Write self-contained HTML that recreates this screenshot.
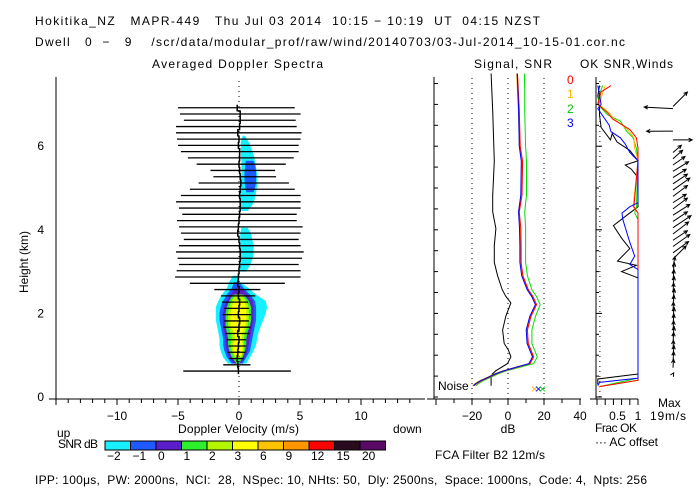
<!DOCTYPE html>
<html><head><meta charset="utf-8">
<style>
html,body{margin:0;padding:0;background:#fff;}
svg{display:block;font-family:"Liberation Sans",sans-serif;}
text{fill:#000;font-size:12px;white-space:pre;}
</style></head>
<body>
<svg id="chart" width="700" height="500" viewBox="0 0 700 500" xml:space="preserve">
<text x="35" y="25" font-size="13" textLength="505" lengthAdjust="spacing">Hokitika_NZ   MAPR-449   Thu Jul 03 2014  10:15 − 10:19  UT  04:15 NZST</text>
<text x="35" y="46" textLength="590" lengthAdjust="spacing">Dwell   0  −   9    /scr/data/modular_prof/raw/wind/20140703/03-Jul-2014_10-15-01.cor.nc</text>
<text x="152" y="68" textLength="171" lengthAdjust="spacing">Averaged Doppler Spectra</text>
<text x="474" y="68" textLength="78" lengthAdjust="spacing">Signal, SNR</text>
<text x="580" y="68" textLength="93" lengthAdjust="spacing">OK SNR,Winds</text>
<g id="spec"></g>
<g id="sig"></g>
<g id="wind"></g>
<g id="leg"></g>
<text x="28" y="262" transform="rotate(-90 28 262)" text-anchor="middle" font-size="11">Height (km)</text>
<text x="178" y="433" textLength="121" lengthAdjust="spacing">Doppler Velocity (m/s)</text>
<text x="57" y="437">up</text>
<text x="393" y="433">down</text>
<text x="508" y="433" text-anchor="middle">dB</text>
<text x="595" y="432" textLength="42" lengthAdjust="spacing">Frac OK</text>
<text x="595" y="446" textLength="63" lengthAdjust="spacing">··· AC offset</text>
<text x="658" y="407">Max</text>
<text x="650" y="420" textLength="36" lengthAdjust="spacing">19m/s</text>
<text x="435" y="459" textLength="110" lengthAdjust="spacing">FCA Filter B2 12m/s</text>
<text x="438" y="390">Noise</text>
<text x="58" y="448" textLength="40" lengthAdjust="spacing">SNR dB</text>
<text x="35" y="484" textLength="612" lengthAdjust="spacing">IPP: 100μs,  PW: 2000ns,  NCI:  28,  NSpec: 10, NHts: 50,  Dly: 2500ns,  Space: 1000ns,  Code: 4,  Npts: 256</text>
</svg>
<script>
// ---------- data ----------
const gateH=[0.62,0.77,0.92,1.07,1.22,1.37,1.52,1.67,1.82,1.97,2.12,2.27,2.42,2.57,2.72,2.87,3.02,3.17,3.32,3.47,3.62,3.77,3.92,4.07,4.22,4.37,4.52,4.67,4.82,4.97,5.12,5.27,5.42,5.57,5.72,5.87,6.02,6.17,6.32,6.47,6.62,6.77,6.92];
const barLeft=[-4.57,-1.29,-0.81,-0.94,-0.86,-1.02,-1.13,-1.29,-1.21,-1.34,-1.21,-1.40,-1.48,-2.02,-4.03,-5.24,-5.11,-4.92,-5.03,-5.16,-4.92,-4.52,-4.76,-4.92,-5.08,-4.65,-4.92,-5.16,-4.76,-4.03,-3.31,-2.10,-2.34,-3.47,-4.19,-4.76,-5.00,-5.08,-5.16,-5.16,-4.52,-4.84,-5.00];
const barRight=[4.25,0.94,0.40,0.54,0.59,0.59,0.86,0.94,0.81,0.99,0.81,0.75,1.34,1.75,3.76,5.05,5.05,4.89,5.16,5.30,5.05,4.89,5.05,5.22,4.73,4.73,5.05,5.05,5.05,4.57,4.09,3.04,2.96,3.84,4.49,4.89,4.89,5.05,5.13,4.73,4.65,5.05,4.57];
const meanV=[-0.05,-0.1,-0.15,-0.1,-0.05,0.0,-0.1,0.0,0.05,-0.05,0.0,0.05,-0.05,0.0,-0.1,-0.05,0.0,0.05,0.1,0.1,0.05,0.0,-0.1,-0.05,0.0,0.05,0.1,0.1,0.05,0.1,0.15,0.1,0.05,0.0,0.05,0.05,-0.05,0.0,-0.1,0.05,0.1,0.1,-0.15];
const lowH=[0.8,0.95,1.1,1.25,1.4,1.55,1.7,1.85,2.0,2.15,2.3,2.45,2.6,2.75,2.9];
const cyanL=[-0.9,-1.3,-1.5,-1.6,-1.6,-1.7,-1.8,-1.9,-1.9,-1.9,-1.7,-1.4,-1.0,-0.8,-0.5];
const cyanR=[0.6,0.9,1.2,1.4,1.5,1.6,1.8,2.0,2.2,2.3,2.2,1.4,0.8,0.1,-0.1];
const blueL=[-0.6,-1.0,-1.2,-1.3,-1.3,-1.4,-1.5,-1.6,-1.6,-1.5,-1.3,-1.0,-0.6,-0.4,null];
const blueR=[0.3,0.6,0.9,1.0,1.1,1.2,1.3,1.4,1.4,1.4,1.3,0.9,0.4,0.0,null];
const purpL=[-0.4,-0.8,-1.0,-1.1,-1.1,-1.2,-1.3,-1.3,-1.3,-1.2,-1.0,-0.7,-0.3,null,null];
const purpR=[0.1,0.5,0.7,0.8,0.9,1.0,1.1,1.2,1.2,1.2,1.1,0.7,0.2,null,null];
const grnL=[-0.2,-0.6,-0.8,-0.9,-0.9,-1.0,-1.1,-1.1,-1.1,-1.0,-0.8,-0.5,null,null,null];
const grnR=[0.0,0.3,0.5,0.6,0.6,0.7,0.9,1.0,1.0,1.0,0.8,0.4,null,null,null];
const ygL=[null,-0.4,-0.6,-0.7,-0.6,-0.7,-0.9,-0.9,-0.9,-0.8,-0.6,-0.3,null,null,null];
const ygR=[null,0.2,0.4,0.4,0.4,0.5,0.7,0.8,0.8,0.8,0.6,0.2,null,null,null];
const yelL=[null,-0.3,-0.5,-0.5,-0.3,-0.4,-0.7,-0.7,-0.7,-0.6,-0.4,null,null,null,null];
const yelR=[null,0.1,0.3,0.3,0.2,0.3,0.5,0.6,0.6,0.6,0.4,null,null,null,null];
const upH=[4.45,4.6,4.75,4.9,5.05,5.2,5.35,5.5,5.65,5.8,5.95,6.1,6.25];
const upCyanL=[0.2,0.15,0.1,0.1,0.1,0.15,0.2,0.2,0.2,0.15,0.15,0.15,0.3];
const upCyanR=[0.7,1.1,1.3,1.4,1.5,1.5,1.5,1.4,1.3,1.2,1.0,0.8,0.5];
const upBlueL=[null,null,null,0.6,0.5,0.45,0.45,0.5,0.55,null,null,null,null];
const upBlueR=[null,null,null,1.2,1.35,1.4,1.4,1.35,1.2,null,null,null,null];
const midH=[3.0,3.15,3.3,3.45,3.6,3.75,3.9,4.05];
const midCyanL=[0.1,0.05,0.05,0.1,0.1,0.1,0.1,0.2];
const midCyanR=[0.6,0.9,1.1,1.2,1.2,1.1,1.0,0.7];
const sigH=[0.27,0.47,0.55,0.63,0.8,0.96,1.12,1.28,1.6,1.93,2.25,2.41,2.57,2.9,3.22,3.62,4.03,4.43,4.83,5.64,6.85,7.74];
const sigDb=[-9.4,-9.4,-8.7,-6.7,-0.3,1.6,0.3,-2.1,-3,-1.2,1.6,-1.2,-3.2,-5.8,-7.6,-7.6,-6.7,-8.5,-8.5,-7.6,-8.5,-9.4];
const snrH=[0.27,0.31,0.39,0.47,0.55,0.63,0.8,0.96,1.12,1.28,1.6,1.93,2.21,2.41,2.57,2.9,3.22,3.62,4.03,4.43,4.83,5.64,6.0,6.85,7.3,7.74];
const snr0=[-18.7,-17.7,-14.7,-10.7,-6.7,-1.7,12.3,14.3,12.8,11.3,10.8,12.8,15.9,13.8,11.3,8.3,7.3,7.3,7.1,6.3,7.8,8.1,6.8,6.3,5.8,5.3];
const snr1=[-19.7,-18.7,-15.7,-11.7,-7.7,-2.7,11.8,13.8,12.3,10.8,10.3,12.3,15.3,13.3,10.8,7.8,6.8,6.8,6.6,5.7,7.3,7.5,6.3,5.8,5.3,4.8];
const snr2=[-17.7,-16.7,-13.7,-9.7,-5.7,-0.7,14.3,16.3,14.8,13.3,13.3,15.3,17.9,15.8,13.3,10.8,9.8,9.8,9.8,9.3,10.3,10.3,9.8,9.3,9.3,9.1];
const snr3=[-19.2,-18.2,-15.2,-11.2,-7.2,-2.2,11.6,13.6,12.1,10.6,10.1,12.1,15.2,13.1,10.6,7.6,6.6,6.6,6.4,5.9,7.1,7.4,6.3,5.9,5.5,5.1];
const fracBlkH=[0.3,0.43,0.55,2.85,3.0,3.15,3.25,3.55,3.8,4.1,4.35,4.55,5.25,5.45,5.55,5.65,5.9,6.1,6.3,6.15,6.45,6.75,7.0,7.2,7.45];
const fracBlk=[0.02,0.02,1.0,1.0,0.6,0.96,0.5,0.8,0.6,0.4,0.73,1.0,1.0,0.84,0.69,1.0,0.8,0.49,0.37,0.33,0.1,0.06,0.06,0.02,0.06];
const fracBluH=[0.27,0.35,0.45,3.05,3.17,3.37,3.7,4.25,4.4,4.55,4.65,5.65,5.85,6.05,6.2,6.35,6.5,6.9,7.0,7.45];
const fracBlu=[0.02,0.06,1.0,1.0,0.8,0.92,0.8,0.63,0.61,0.8,1.0,1.0,0.8,0.69,0.57,0.34,0.3,0.02,0.1,0.02];
const fracGrnH=[0.25,0.45,4.25,4.4,4.55,5.65,5.95,6.2,6.35,6.6,6.75,7.0,7.25,7.45];
const fracGrn=[0.06,1.0,1.0,0.92,0.96,1.0,0.96,0.88,0.73,0.57,0.26,0.02,0.06,0.14];
const fracRedH=[0.25,0.4,4.4,4.55,5.65,5.95,6.2,6.4,6.65,6.8,7.0,7.3,7.45];
const fracRed=[0.06,1.0,1.0,0.9,1.0,1.0,0.96,0.8,0.38,0.26,0.02,0.1,0.34];
const fracOrgH=[0.25,0.4,4.4,4.55,5.65,5.95,6.2,6.4,6.65,6.8,7.0,7.3,7.45];
const fracOrg=[0.04,1.0,1.0,0.88,1.0,0.92,0.9,0.75,0.42,0.3,0.05,0.15,0.2];
const windH=[0.55,0.7,0.85,1.0,1.15,1.3,1.45,1.6,1.75,1.9,2.05,2.2,2.35,2.5,2.65,2.8,2.95,3.1,3.3,3.45,3.6,3.75,3.9,4.05,4.2,4.35,4.5,4.65,4.8,4.95,5.1,5.25,5.4,5.55,5.7,5.85,6.15,6.36,6.9,6.95];
const windU=[0.3,0.2,0.3,0.4,0.2,0.3,0.5,0.3,0.4,0.5,0.2,0.4,0.6,0.3,0.5,0.4,0.6,0.8,5.5,6.5,7,6,6.5,7.5,6,7,6,5.5,6,7,6,5.5,6.5,5,4,3.5,8,-11,-12,6];
const windV=[0.5,3.5,4,4,3.5,4.2,4,3.8,4,4.2,3.8,4,4.1,3.9,4,4.2,4.5,4.5,5.5,4.7,5,4,5,5,4,4.5,4.5,3.5,4.5,5,4,3.5,4,3.5,3.5,3,0,0,0.6,6];
const snrLevels=["−2","−1","0","1","2","3","6","9","12","15","20"];
const snrColors=["#19f0ff","#1e5aff","#5a1ecc","#2cf02c","#b4f500","#ffff00","#ffc400","#ff9600","#ff0000","#2a0a1e","#5a0a64"];
const vTicks=[-10,-5,0,5,10];
const hTicks=[0,2,4,6];
const dbTicks=[-20,0,20,40];
const fracTickLabels=["0.5","1"];

// ---------- scales ----------
const NS='http://www.w3.org/2000/svg';
const yH=h=>397-41.8*h;
const xV=v=>239+12.2*v;
const xDb=d=>508+1.8*d;
const xF=f=>597+41*f;
function mk(parent,tag,attrs){const e=document.createElementNS(NS,tag);for(const k in attrs)e.setAttribute(k,attrs[k]);parent.appendChild(e);return e;}
const spec=document.getElementById('spec'),sig=document.getElementById('sig'),wind=document.getElementById('wind'),leg=document.getElementById('leg');

// ---------- spectra panel ----------
function blob(H,L,R,color,name){
  const idx=[];for(let i=0;i<H.length;i++)if(L[i]!==null&&R[i]!==null)idx.push(i);
  if(!idx.length)return;
  let pts=idx.map(i=>xV(L[i]).toFixed(1)+','+yH(H[i]).toFixed(1));
  pts=pts.concat(idx.slice().reverse().map(i=>xV(R[i]).toFixed(1)+','+yH(H[i]).toFixed(1)));
  const p=mk(spec,'polygon',{points:pts.join(' '),fill:color});
  
  
}
blob(lowH,cyanL,cyanR,snrColors[0],'spectrum-snr-m2-low');
blob(lowH,blueL,blueR,snrColors[1],'spectrum-snr-m1-low');
blob(lowH,purpL,purpR,snrColors[2],'spectrum-snr-0-low');
blob(lowH,grnL,grnR,snrColors[3],'spectrum-snr-1-low');
blob(lowH,ygL,ygR,snrColors[4],'spectrum-snr-2-low');
blob(lowH,yelL,yelR,snrColors[5],'spectrum-snr-3-low');
blob(upH,upCyanL,upCyanR,snrColors[0],'spectrum-snr-m2-upper');
blob(upH,upBlueL,upBlueR,snrColors[1],'spectrum-snr-m1-upper');
blob(midH,midCyanL,midCyanR,snrColors[0],'spectrum-snr-m2-mid');
{const z=mk(spec,'line',{x1:xV(0),y1:397,x2:xV(0),y2:80,stroke:'#000','stroke-dasharray':'1 4'});

}
gateH.forEach((h,i)=>{
  const l=mk(spec,'line',{x1:xV(barLeft[i]),x2:xV(barRight[i]),y1:yH(h),y2:yH(h),stroke:'#000','stroke-width':1.3});
  
  
});
{let d='';gateH.forEach((h,i)=>{const x=xV(meanV[i]);d+=(i?'L':'M')+x.toFixed(1)+','+(yH(h)+3).toFixed(1)+'L'+x.toFixed(1)+','+(yH(h)-3).toFixed(1);});
const m=mk(spec,'path',{d:d,fill:'none',stroke:'#000','stroke-width':1.5});

}
mk(spec,'line',{x1:56,y1:399,x2:56,y2:77,stroke:'#000'});
mk(spec,'line',{x1:49,y1:399,x2:425,y2:399,stroke:'#000'});
hTicks.forEach(h=>{const t=mk(spec,'text',{x:44,y:yH(h)+4,'text-anchor':'end'});t.textContent=h;

});
for(let v=-15;v<=14;v++){if(xV(v)<50)continue;mk(spec,'line',{x1:xV(v),y1:399,x2:xV(v),y2:399+(v%5===0?6:4),stroke:'#000'});}
vTicks.forEach(v=>{const t=mk(spec,'text',{x:xV(v),y:420,'text-anchor':'middle'});t.textContent=v<0?'−'+(-v):v;

});

// ---------- signal panel ----------
[-20,0,20].forEach(d=>{mk(sig,'line',{x1:xDb(d),y1:399,x2:xDb(d),y2:77,stroke:'#000','stroke-dasharray':'1 4'});});
function line(g,H,X,color,name,fx){
  const p=mk(g,'polyline',{points:H.map((h,i)=>fx(X[i]).toFixed(1)+','+yH(h).toFixed(1)).join(' '),fill:'none',stroke:color,'stroke-width':1});
  
  
}
line(sig,sigH,sigDb,'#000','signal-line',xDb);
line(sig,snrH,snr2,'#00e000','snr-line-2',xDb);
line(sig,snrH,snr1,'#ffb400','snr-line-1',xDb);
line(sig,snrH,snr0,'#ff0000','snr-line-0',xDb);
line(sig,snrH,snr3,'#0000ff','snr-line-3',xDb);
mk(sig,'line',{x1:434,y1:399,x2:434,y2:77,stroke:'#000'});
mk(sig,'line',{x1:427,y1:399,x2:581,y2:399,stroke:'#000'});
for(let h=0;h<=7.5;h+=0.5){mk(sig,'line',{x1:434,y1:yH(h),x2:438,y2:yH(h),stroke:'#000'});}
for(let d=-40;d<=40;d+=10){if(xDb(d)<430)continue;mk(sig,'line',{x1:xDb(d),y1:399,x2:xDb(d),y2:(d%20===0?405:403),stroke:'#000'});}
dbTicks.forEach(d=>{const t=mk(sig,'text',{x:xDb(d),y:420,'text-anchor':'middle'});t.textContent=d<0?'−'+(-d):d;

});
[['#ffb400',531],['#0000ff',535],['#00e000',539]].forEach(([c,x])=>{const t=mk(sig,'text',{x:x,y:393,'font-size':15});t.textContent='×';t.setAttribute('style','fill:'+c);

});
[['0','#ff0000',84],['1','#ffb400',98],['2','#00c000',113],['3','#0000ff',127]].forEach(([s,c,y])=>{const t=mk(sig,'text',{x:567,y:y,'font-size':11});t.textContent=s;t.setAttribute('style','fill:'+c);

});

// ---------- winds panel ----------
mk(wind,'line',{x1:xF(0.07),y1:397,x2:xF(0.07),y2:77,stroke:'#000','stroke-dasharray':'1 4'});
line(wind,fracBlkH,fracBlk,'#000','frac-ok-all',xF);
line(wind,fracGrnH,fracGrn,'#00e000','frac-ok-2',xF);
line(wind,fracOrgH,fracOrg,'#ffb400','frac-ok-1',xF);
line(wind,fracRedH,fracRed,'#ff0000','frac-ok-0',xF);
line(wind,fracBluH,fracBlu,'#0000ff','frac-ok-3',xF);
mk(wind,'line',{x1:596,y1:399,x2:596,y2:77,stroke:'#000'});
mk(wind,'line',{x1:590,y1:399,x2:638,y2:399,stroke:'#000'});
for(let h=0;h<=7.5;h+=0.5){mk(wind,'line',{x1:596,y1:yH(h),x2:h%2===0?602:599,y2:yH(h),stroke:'#000'});}
for(let f=0;f<=1.001;f+=0.2){mk(wind,'line',{x1:xF(f),y1:399,x2:xF(f),y2:405,stroke:'#000'});}
fracTickLabels.forEach(s=>{const t=mk(wind,'text',{x:xF(parseFloat(s)),y:420,'text-anchor':'middle'});t.textContent=s;

});
const ws=2.4;
windH.forEach((h,i)=>{
  const x0=673,y0=yH(h),x1=x0+windU[i]*ws,y1=y0-windV[i]*ws;
  const ang=Math.atan2(y1-y0,x1-x0),a=4;
  const d='M'+x0+','+y0+'L'+x1.toFixed(1)+','+y1.toFixed(1)+
   'M'+(x1-a*Math.cos(ang-0.45)).toFixed(1)+','+(y1-a*Math.sin(ang-0.45)).toFixed(1)+'L'+x1.toFixed(1)+','+y1.toFixed(1)+
   'L'+(x1-a*Math.cos(ang+0.45)).toFixed(1)+','+(y1-a*Math.sin(ang+0.45)).toFixed(1);
  const p=mk(wind,'path',{d:d,fill:'none',stroke:'#000','stroke-width':1});
  
  
});

// ---------- color legend ----------
snrColors.forEach((c,i)=>{
  const x=105+i*25.5;
  const r=mk(leg,'rect',{x:x,y:441,width:25.5,height:9,fill:c,stroke:'#000','stroke-width':1});
  
  
  const t=mk(leg,'text',{x:x+2,y:460});t.textContent=snrLevels[i];
  
  
});
</script>
</body></html>
